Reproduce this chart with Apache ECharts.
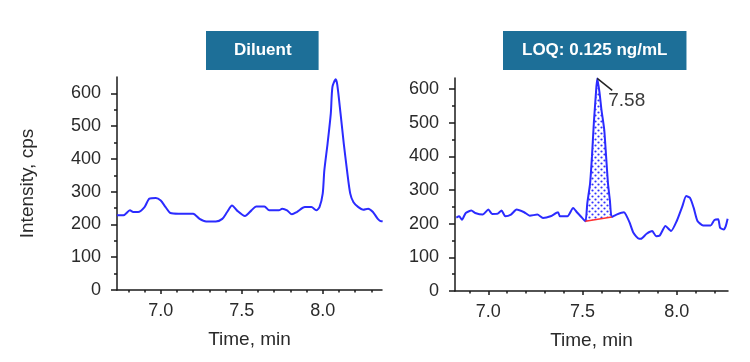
<!DOCTYPE html>
<html><head><meta charset="utf-8">
<script src="https://cdn.jsdelivr.net/npm/echarts@6/dist/echarts.min.js"></script>
<style>html,body{margin:0;padding:0;background:#fff}#c{width:750px;height:362px}</style>
</head><body><div id="c"></div>
<script>
// ---------- data ----------
const leftTitle = 'Diluent';
const rightTitle = 'LOQ: 0.125 ng/mL';
const yAxisName = 'Intensity, cps';
const xAxisName = 'Time, min';
const yTickValues = [0, 100, 200, 300, 400, 500, 600];
const yMinorTickValues = [50, 150, 250, 350, 450, 550];
const xTickValues = [7.0, 7.5, 8.0];
const xMinorLeft = [6.8, 6.9, 7.1, 7.2, 7.3, 7.4, 7.6, 7.7, 7.8, 7.9, 8.1, 8.2, 8.3];
const xMinorRight = [6.9, 7.1, 7.2, 7.3, 7.4, 7.6, 7.7, 7.8, 7.9, 8.1, 8.2];

const leftTime = [6.73, 6.77, 6.81, 6.83, 6.86, 6.90, 6.93, 6.97, 7.00, 7.03, 7.06, 7.11, 7.20, 7.24, 7.28, 7.34, 7.38, 7.41, 7.44, 7.47, 7.52, 7.56, 7.59, 7.64, 7.67, 7.73, 7.75, 7.78, 7.81, 7.84, 7.89, 7.93, 7.96, 7.98, 8.00, 8.01, 8.03, 8.05, 8.06, 8.08, 8.09, 8.11, 8.13, 8.15, 8.17, 8.19, 8.22, 8.25, 8.28, 8.31, 8.34, 8.36, 8.37];
const leftIntensity = [228, 228, 243, 238, 238, 253, 279, 281, 273, 253, 235, 233, 233, 217, 209, 209, 217, 238, 258, 243, 226, 243, 255, 255, 243, 243, 248, 243, 231, 238, 253, 253, 243, 253, 294, 365, 447, 539, 620, 643, 626, 539, 447, 365, 294, 268, 253, 245, 248, 238, 217, 210, 210];

const rightTime = [6.83, 6.845, 6.86, 6.88, 6.91, 6.93, 6.97, 7.00, 7.02, 7.05, 7.07, 7.09, 7.12, 7.15, 7.19, 7.22, 7.26, 7.29, 7.33, 7.37, 7.38, 7.42, 7.45, 7.47, 7.49, 7.515, 7.525, 7.54, 7.55, 7.56, 7.57, 7.578, 7.59, 7.60, 7.615, 7.625, 7.635, 7.645, 7.655, 7.68, 7.72, 7.73, 7.75, 7.77, 7.80, 7.81, 7.84, 7.87, 7.89, 7.91, 7.94, 7.96, 7.97, 8.00, 8.03, 8.05, 8.07, 8.09, 8.11, 8.14, 8.18, 8.20, 8.22, 8.23, 8.25, 8.26, 8.27];
const rightIntensity = [218, 222, 212, 232, 239, 232, 227, 242, 229, 230, 239, 222, 227, 242, 234, 224, 227, 217, 222, 234, 222, 222, 247, 234, 222, 207, 260, 320, 400, 500, 580, 632, 590, 540, 480, 400, 320, 270, 220, 227, 234, 227, 203, 173, 155, 155, 170, 178, 163, 165, 193, 183, 178, 208, 252, 282, 277, 247, 208, 195, 195, 211, 213, 188, 183, 193, 215];

const peakStart = 7.515, peakEnd = 7.655;
const baselineTime = [7.515, 7.655];
const baselineIntensity = [207, 220];
const peakLabelTime = 7.578, peakLabelIntensity = 632, peakLabelText = '7.58';

// ---------- styling ----------
const FONT = '"Liberation Sans", Arial, sans-serif';
const BLUE = '#2b2bff';
const AXIS = '#1a1a1a';
const TXT = '#2a2a2a';

function dotPattern() {
  const c = document.createElement('canvas');
  c.width = 6; c.height = 6;
  const g = c.getContext('2d');
  g.fillStyle = '#ffffff'; g.fillRect(0, 0, 6, 6);
  g.fillStyle = '#3333ff';
  g.beginPath(); g.arc(1.5, 1.5, 1.1, 0, Math.PI * 2); g.fill();
  g.beginPath(); g.arc(4.5, 4.5, 1.1, 0, Math.PI * 2); g.fill();
  return c;
}
const pattern = { image: dotPattern(), repeat: 'repeat' };

const grids = [
  { left: 117, top: 77, width: 265, height: 213 },
  { left: 455, top: 78, width: 273, height: 213 }
];
const xRanges = [[6.73, 8.366], [6.823, 8.272]];
const yMax = [650, 633];

function mainX(gi) {
  return {
    type: 'value', gridIndex: gi, min: xRanges[gi][0], max: xRanges[gi][1], position: 'bottom',
    name: xAxisName, nameLocation: 'middle', nameGap: 40,
    nameTextStyle: { color: TXT, fontSize: 19, fontFamily: FONT },
    splitLine: { show: false },
    axisLine: { show: true, onZero: false, lineStyle: { color: AXIS, width: 1.5 } },
    axisTick: { show: true, customValues: xTickValues, length: 4, lineStyle: { color: AXIS, width: 1.5 } },
    axisLabel: { show: true, customValues: xTickValues, margin: 12, color: TXT, fontSize: 18, fontFamily: FONT,
      formatter: v => v.toFixed(1) }
  };
}
function minorX(gi, vals) {
  return {
    type: 'value', gridIndex: gi, min: xRanges[gi][0], max: xRanges[gi][1], position: 'bottom',
    splitLine: { show: false }, axisLine: { show: false, onZero: false },
    axisTick: { show: true, customValues: vals, length: 2.5, lineStyle: { color: AXIS, width: 1.5 } },
    axisLabel: { show: false }
  };
}
function mainY(gi) {
  const o = {
    type: 'value', gridIndex: gi, min: 0, max: yMax[gi], position: 'left',
    splitLine: { show: false },
    axisLine: { show: true, onZero: false, lineStyle: { color: AXIS, width: 1.5 } },
    axisTick: { show: true, customValues: yTickValues, length: 6, lineStyle: { color: AXIS, width: 1.5 } },
    axisLabel: { show: true, customValues: yTickValues, margin: 16, color: TXT, fontSize: 18, fontFamily: FONT }
  };
  if (gi === 0) {
    o.name = yAxisName; o.nameLocation = 'middle'; o.nameGap = 80;
    o.nameTextStyle = { color: TXT, fontSize: 19, fontFamily: FONT };
  }
  return o;
}
function minorY(gi) {
  return {
    type: 'value', gridIndex: gi, min: 0, max: yMax[gi], position: 'left',
    splitLine: { show: false }, axisLine: { show: false, onZero: false },
    axisTick: { show: true, customValues: yMinorTickValues, length: 3, lineStyle: { color: AXIS, width: 1.5 } },
    axisLabel: { show: false }
  };
}

const titleBase = { backgroundColor: '#1d6f98', top: 31,
  textStyle: { color: '#ffffff', fontSize: 17, fontWeight: 'bold', fontFamily: FONT, lineHeight: 17 } };

const chart = echarts.init(document.getElementById('c'), null, { renderer: 'canvas' });
chart.setOption({
  animation: false,
  backgroundColor: '#ffffff',
  title: [
    Object.assign({}, titleBase, { text: leftTitle, left: 206, padding: [11, 27, 11, 28] }),
    Object.assign({}, titleBase, { text: rightTitle, left: 503, padding: [11, 19, 11, 19] })
  ],
  grid: grids,
  xAxis: [mainX(0), minorX(0, xMinorLeft), mainX(1), minorX(1, xMinorRight)],
  yAxis: [mainY(0), minorY(0), mainY(1), minorY(1)],
  series: [
    {
      type: 'line', name: leftTitle, xAxisIndex: 0, yAxisIndex: 0, showSymbol: false, smooth: 0.25,
      lineStyle: { color: BLUE, width: 2 }, z: 3,
      data: leftTime.map((t, i) => [t, leftIntensity[i]])
    },
    {
      type: 'custom', name: 'peak area', xAxisIndex: 2, yAxisIndex: 2, z: 1,
      data: [[peakStart, 0]],
      renderItem: function (params, api) {
        const pts = [];
        rightTime.forEach((t, i) => {
          if (t >= peakStart - 1e-9 && t <= peakEnd + 1e-9) pts.push(api.coord([t, rightIntensity[i]]));
        });
        return { type: 'polygon', shape: { points: pts }, style: { fill: pattern, stroke: null } };
      }
    },
    {
      type: 'line', name: rightTitle, xAxisIndex: 2, yAxisIndex: 2, showSymbol: false, smooth: 0.2,
      lineStyle: { color: BLUE, width: 2 }, z: 3,
      data: rightTime.map((t, i) => [t, rightIntensity[i]])
    },
    {
      type: 'line', name: 'baseline', xAxisIndex: 2, yAxisIndex: 2, showSymbol: false,
      lineStyle: { color: '#ff3030', width: 1.5 }, z: 4,
      data: baselineTime.map((t, i) => [t, baselineIntensity[i]])
    },
    {
      type: 'custom', name: 'peak label', xAxisIndex: 2, yAxisIndex: 2, z: 5,
      data: [[peakLabelTime, peakLabelIntensity]],
      renderItem: function (params, api) {
        const p = api.coord([api.value(0), api.value(1)]);
        return {
          type: 'group', children: [
            { type: 'line', shape: { x1: p[0], y1: p[1], x2: p[0] + 15, y2: p[1] + 12 }, style: { stroke: '#222', lineWidth: 1.5 } },
            { type: 'text', x: p[0] + 11, y: p[1] + 22,
              style: { text: peakLabelText, fill: '#3a3a3a', fontSize: 19, fontFamily: FONT, verticalAlign: 'middle', align: 'left' } }
          ]
        };
      }
    }
  ]
});
</script>
</body></html>
